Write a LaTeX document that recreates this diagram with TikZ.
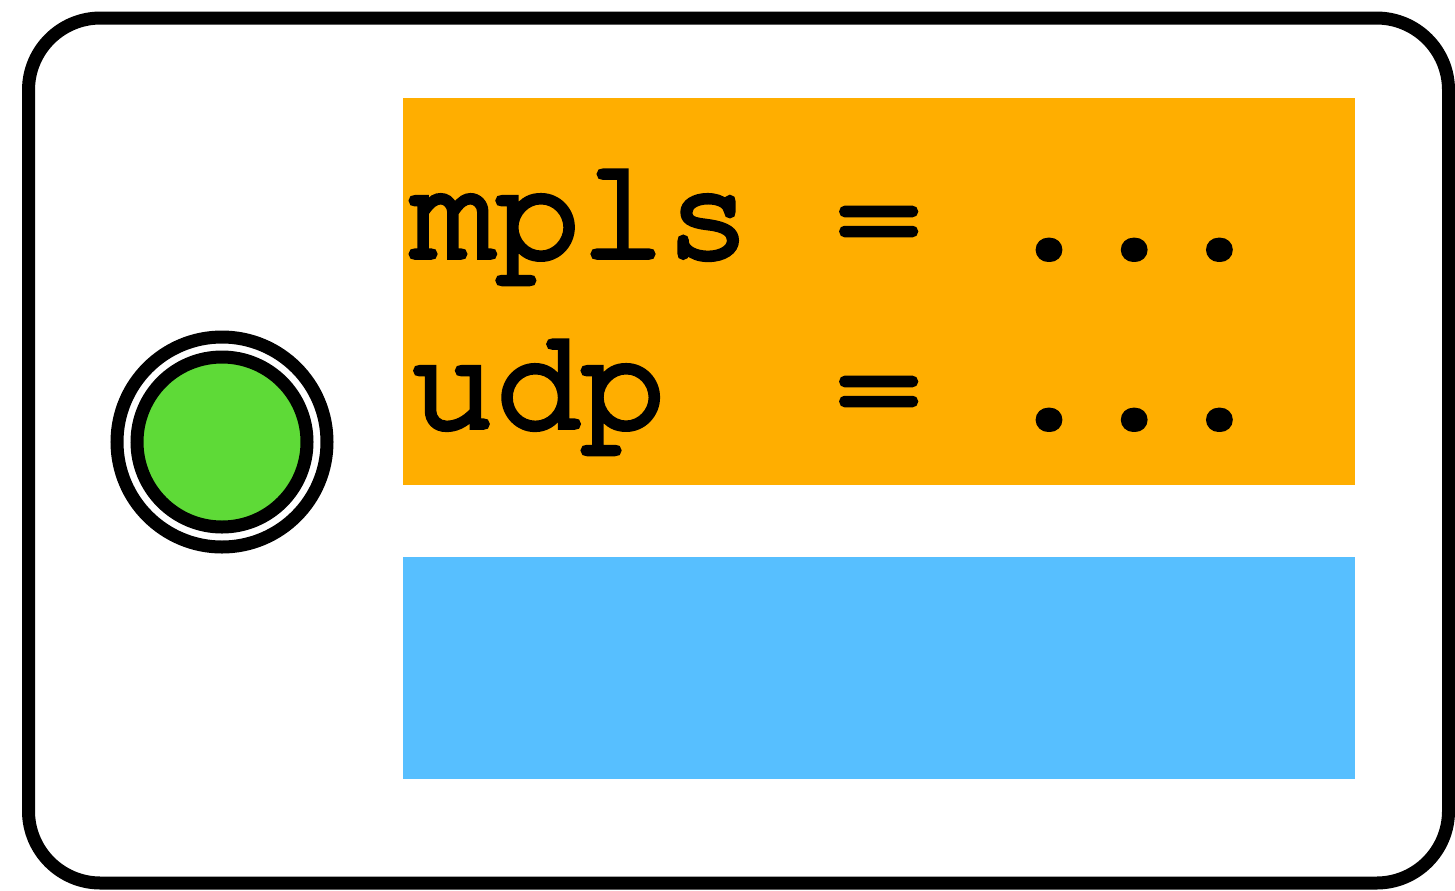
\documentclass[tikz,border=0pt]{standalone}
\usepackage{fontspec}
\newfontfamily\codefont{TeX Gyre Cursor}[FakeBold=4]
\definecolor{hdrorange}{RGB}{255,174,0}
\definecolor{payblue}{RGB}{87,191,255}
\definecolor{ledgreen}{RGB}{94,218,55}
\begin{document}
\begin{tikzpicture}[x=0.5pt,y=-0.5pt,
  thick line/.style={line width=6.5pt},
  code/.style={inner sep=0pt, outer sep=0pt, anchor=base west,
    font=\codefont\fontsize{71pt}{85pt}\selectfont}]
  \useasboundingbox (0,0) rectangle (1455,890);
  % card outline
  \draw[thick line, rounded corners=36pt] (28.5,18) rectangle (1448.5,883);
  % status indicator: ring around a filled disc
  \node[circle, draw, thick line, minimum size=105pt, inner sep=0pt] (ring) at (222,442) {};
  \node[circle, draw, thick line, fill=ledgreen, minimum size=85pt, inner sep=0pt] (led) at (ring.center) {};
  % header field
  \fill[hdrorange] (403,98) rectangle (1355,485);
  \node[code] (l1) at (410,257) {mpls~=~...};
  \node[code] (l2) at (410,427) {udp~~=~...};
  % payload field
  \fill[payblue] (403,557) rectangle (1355,779);
\end{tikzpicture}
\end{document}
